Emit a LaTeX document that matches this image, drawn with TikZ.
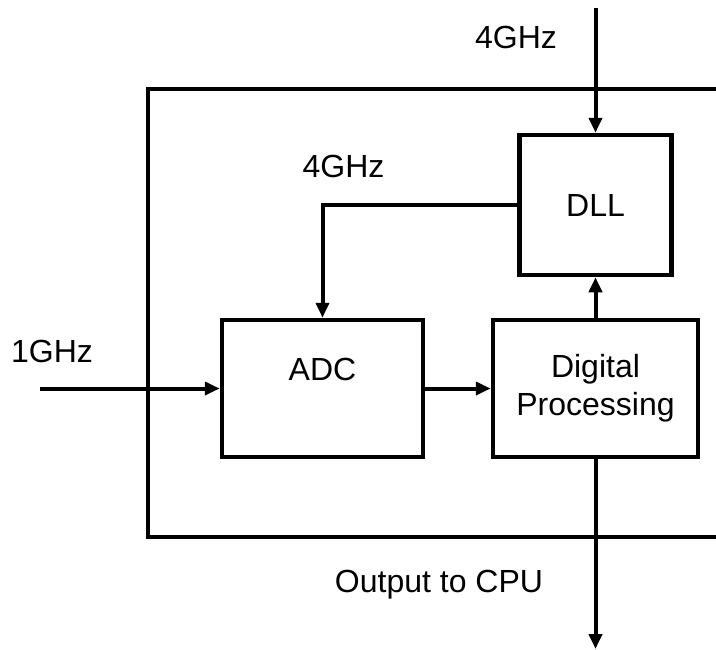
\documentclass[tikz,border=0pt]{standalone}
\usepackage{fontspec}
\setmainfont{Liberation Sans}
\usetikzlibrary{positioning, arrows.meta}

\begin{document}
\begin{tikzpicture}[
    x=1pt, y=-1pt,
    % plain boxes with thick outline
    block/.style={
        draw,
        line width=4.5pt,
        rectangle,
        minimum height=137pt,
        align=center,
        font=\fontsize{32}{38}\selectfont
    },
    arr/.style={-{Triangle[length=15pt, width=13pt]}, line width=4pt},
    % free labels beside the wires
    lbl/.style={anchor=base, font=\fontsize{32}{38}\selectfont}
]
    \useasboundingbox (0,0) rectangle (716,649);

    % --- Outer chip outline (runs off the right edge) ---
    \draw[line width=4pt] (716,89) -- (148,89) -- (148,537) -- (716,537);

    % --- Nodes ---
    \node[block, minimum width=201pt] (adc) at (322.5,388.5) {ADC\\~};
    \node[block, minimum width=205pt, right=65.5pt of adc] (dp) {Digital\\Processing};
    \node[block, minimum width=152pt, minimum height=140pt, above=40.5pt of dp] (dll) {DLL};

    \coordinate (clkin) at (dll.north |- 0,8);
    \coordinate (adcin) at (40,388.5);
    \coordinate (cpu) at (dp.south |- 0,649);

    % --- Labels ---
    \node[lbl] (f4top) at (516,48) {4GHz};
    \node[lbl] (f4fb) at (343.5,177) {4GHz};
    \node[lbl] (f1) at (52,362) {1GHz};
    \node[lbl] (outlbl) at (439,592) {Output to CPU};

    % --- Edges ---
    \draw[arr] (clkin) -- (dll.north);
    \draw[arr] (dll.west) -| (adc.north);
    \draw[arr] (adcin) -- (adc.west);
    \draw[arr] (adc.east) -- (adc.east -| dp.west);
    \draw[arr] (dp.north) -- (dll.south);
    \draw[arr] (dp.south) -- (cpu);

\end{tikzpicture}
\end{document}
